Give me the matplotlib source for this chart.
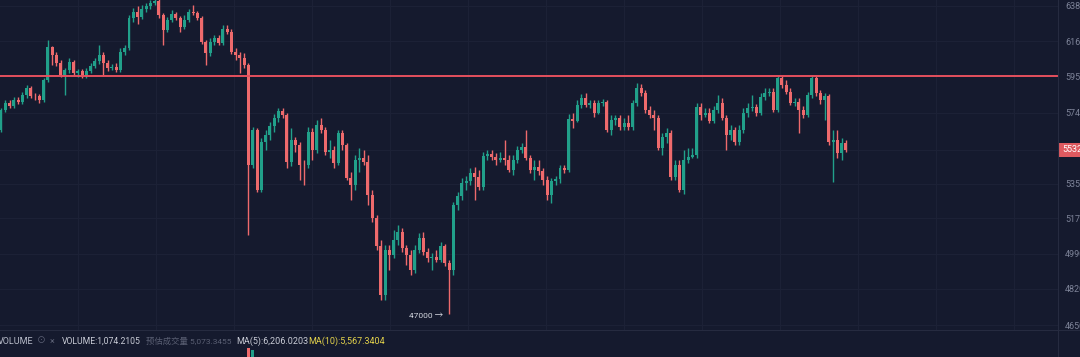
import matplotlib.pyplot as plt
import numpy as np
from matplotlib.lines import Line2D
from matplotlib.ticker import NullLocator

plt.rcParams['font.family'] = ['Roboto', 'Noto Sans CJK SC', 'DejaVu Sans']

# candle data (price), open of each bar = previous close
first_open = 56420
closes = [
    57550, 57950, 57780, 58130, 58010, 58410, 58820, 58360, 58330, 58130,
    59290, 61260, 60780, 60300, 59580, 59880, 60360, 59700, 59820, 59530,
    59820, 60120, 60420, 60780, 60300, 60000, 60060, 59880, 60960, 61200,
    63050, 63420, 63110, 63610, 63800, 63990, 64120, 63230, 62300, 62920,
    63300, 63050, 62490, 62920, 63420, 63360, 63050, 61560, 60900, 61560,
    61810, 61500, 62360, 62180, 60960, 60780, 60600, 60180, 54500, 56420,
    53170, 55760, 56150, 56650, 57100, 57500, 57270, 54660, 55870, 55590,
    54500, 54480, 56310, 55320, 56700, 56420, 55210, 55320, 54610, 56260,
    55590, 53800, 53430, 54770, 54880, 54660, 52900, 51710, 50300, 47910,
    50100, 49850, 50600, 51000, 50200, 49850, 49110, 50100, 50700, 50000,
    49700, 49750, 49600, 50300, 49460, 49110, 52380, 52850, 53540, 53640,
    54070, 53860, 53330, 54990, 55100, 54930, 54770, 54880, 54770, 54230,
    54770, 55320, 55480, 54880, 54230, 54390, 54180, 53700, 52900, 53640,
    53750, 54340, 54230, 57040, 56930, 57840, 58240, 57840, 57950, 57380,
    57950, 58010, 56420, 56990, 57100, 56590, 56820, 56590, 57950, 58820,
    58530, 57550, 57270, 57100, 55430, 56030, 56260, 53860, 54500, 53170,
    54770, 54930, 55040, 57730, 57270, 57380, 56930, 57550, 57950, 57100,
    56150, 56420, 55760, 56420, 57380, 57670, 57730, 57380, 58300, 58530,
    58590, 57550, 59410, 59000, 58590, 57950, 58010, 57550, 57270, 58410,
    59410, 58530, 58130, 58360, 55760, 55870, 55150, 55700, 55320,
]
highs = [
    57670, 58130, 58130, 58300, 58300, 58590, 59000, 58940, 58530, 58470,
    59410, 61690, 61320, 60960, 60480, 60000, 60600, 60480, 59940, 59940,
    60000, 60300, 60600, 61380, 60960, 60480, 60240, 60300, 61200, 61380,
    63240, 63670, 63800, 63860, 63990, 64180, 64370, 64500, 63360, 63110,
    63550, 63420, 63170, 63240, 63610, 63860, 63490, 63170, 61690, 61810,
    61990, 61990, 62610, 62610, 62360, 61200, 60960, 60900, 60300, 56590,
    56530, 55980, 56420, 56870, 57330, 57670, 57670, 57380, 56530, 56030,
    55760, 54770, 56590, 56530, 56990, 57100, 56590, 55870, 55540, 56420,
    56420, 55700, 54120, 55040, 55430, 55320, 55040, 53170, 51870, 50600,
    50350, 50350, 51100, 51350, 51200, 50350, 50100, 50350, 50950, 51000,
    50200, 49950, 50100, 50500, 50400, 49600, 52540, 53060, 53800, 53910,
    54340, 54390, 54230, 55210, 55320, 55320, 55150, 55210, 55870, 55040,
    55040, 55540, 55700, 56420, 55040, 54770, 54770, 54340, 53910, 53800,
    53910, 54500, 54500, 57330, 57380, 58130, 58470, 58530, 58130, 58130,
    58130, 58180, 58130, 57270, 57270, 57270, 57100, 57270, 58130, 59120,
    59060, 58700, 57780, 57550, 57270, 56260, 56530, 56420, 54770, 54770,
    55320, 55430, 55430, 57950, 57950, 57670, 57670, 57780, 58410, 58240,
    57270, 56700, 56590, 56700, 57670, 57950, 58410, 57900, 58530, 58820,
    58820, 58820, 59530, 59530, 59290, 58820, 58240, 58240, 57780, 58590,
    59580, 59580, 58700, 58530, 58470, 56420, 56420, 55980, 55870,
]
lows = [
    56310, 57440, 57670, 57670, 57900, 57900, 58240, 58240, 58130, 57950,
    58010, 59170, 60180, 60120, 59470, 58410, 59700, 59580, 59470, 59410,
    59410, 59700, 60000, 60240, 59530, 59820, 59880, 59760, 59760, 60780,
    61080, 62800, 62670, 62980, 63420, 63610, 63860, 63050, 61380, 62180,
    62800, 62920, 62180, 62360, 62800, 63230, 62920, 61440, 60180, 60720,
    61380, 61380, 61380, 62050, 60840, 60480, 59700, 60000, 50850, 54340,
    53060, 53060, 55320, 55870, 56310, 56870, 57100, 54340, 54450, 55210,
    53700, 53430, 54340, 54770, 55150, 56260, 55040, 54880, 54340, 54500,
    55320, 53700, 52640, 53170, 54120, 54500, 52380, 51510, 50100, 47680,
    47680, 49110, 49700, 50350, 50000, 49360, 48870, 48970, 49950, 49850,
    49500, 49110, 49500, 49500, 49310, 47000, 48870, 52120, 52640, 53170,
    53430, 52640, 53170, 53170, 54770, 54770, 54500, 54660, 54500, 54120,
    53960, 54610, 55150, 54770, 54070, 53700, 53960, 53430, 52640, 52490,
    53430, 53540, 54070, 54120, 56530, 56870, 57670, 57730, 57670, 57150,
    57330, 57780, 56310, 56150, 56700, 56420, 56420, 56420, 56420, 57780,
    58360, 57380, 57100, 56420, 55320, 55040, 55700, 53700, 53700, 53060,
    52960, 54610, 54880, 54880, 56990, 57150, 56820, 56820, 57380, 56990,
    55320, 55870, 55590, 55590, 56260, 57150, 57500, 57210, 57270, 58130,
    58360, 57440, 57440, 58820, 58470, 57840, 57780, 56260, 57100, 57150,
    58240, 58360, 57900, 56990, 55590, 53590, 54880, 54770, 55210,
]

resistance = 59500
low_mark = 47000
low_bar = 105
price_ticks = [63800, 61600, 59500, 57400, 55300, 53500, 51700, 49900, 48200, 46500]
vol_bars = [58, 59]
vol_values = [36500, 35800]
legend_labels = ['VOLUME', '⊙', '×', 'VOLUME:1,074.2105', '预估成交量 5,073.3455',
                 'MA(5):6,206.0203', 'MA(10):5,567.3404']

bg = '#151a2e'
up = '#21a08a'
down = '#ee6a6c'
W, H = 1080, 357

opens = [first_open] + closes[:-1]
o = np.array(opens)
c = np.array(closes)
idx = np.arange(len(closes))
cols = np.where(c >= o, up, down)

fig = plt.figure(figsize=(W / 100, H / 100), dpi=100, facecolor=bg)
ax = fig.add_axes([0, 27 / H, 1058 / W, 330 / H])
ax.set_facecolor(bg)
ax.set_yscale('log')
ax.set_ylim(46280, 64180)
ax.set_xlim(-0.23, 247.7)

ax.vlines(idx, lows, highs, colors=cols, linewidth=1, zorder=3)
ax.bar(idx, np.maximum(np.abs(c - o), 25), bottom=np.minimum(o, c),
       width=0.7, color=cols, linewidth=0, zorder=3)

ax.axhline(resistance, color='#e5505e', linewidth=1.4, zorder=4)

ax.annotate(f'{low_mark} →', xy=(low_bar, low_mark), xytext=(-4, -1),
            textcoords='offset points', ha='right', va='center',
            fontsize=6, color='#d4d7e0')

# right price axis; the tick under the live price tag stays unlabelled
ax.yaxis.tick_right()
ax.set_yticks(price_ticks)
ax.set_yticklabels(['' if abs(t - closes[-1]) < 500 else str(t) for t in price_ticks])
ax.yaxis.set_minor_locator(NullLocator())
ax.tick_params(axis='y', length=0, pad=5, labelsize=6.5, labelcolor='#7d8398')
ax.set_xticks([(78 * k - 1) / 4.266 for k in range(1, 14)])
ax.tick_params(axis='x', length=0, labelbottom=False)
ax.grid(True, color='#1d2237', linewidth=0.7, zorder=0)
for s in ax.spines.values():
    s.set_visible(False)

# current price tag
ax.annotate(str(closes[-1]), xy=(1.0, closes[-1]), xycoords=('axes fraction', 'data'),
            xytext=(3, 0), textcoords='offset points', ha='left', va='center',
            fontsize=6.5, color='white', zorder=10, annotation_clip=False,
            bbox=dict(boxstyle='square,pad=0.3', fc='#df5a60', ec='none'))

# volume pane
vax = fig.add_axes([0, 0, 1058 / W, 26 / H])
vax.set_facecolor(bg)
vax.bar(vol_bars, vol_values, width=0.7, color=[down, up], linewidth=0)
vax.set_xlim(-0.23, 247.7)
vax.set_ylim(33000, 43000)
vax.axis('off')

fig.add_artist(Line2D([1058 / W, 1058 / W], [0, 1], color='#262b40', linewidth=0.8))
fig.add_artist(Line2D([0, 1], [27 / H, 27 / H], color='#262b40', linewidth=0.8))

legend_x = [-2, 37, 50, 62, 146, 236, 308]
legend_size = [6.5, 6.5, 6.5, 6.2, 6.0, 6.5, 6.5]
legend_colors = ['#b9bdca', '#5d6276', '#5d6276', '#c9ccd6', '#5a5f73', '#c9ccd6', '#e3d24b']
for lbl, lx, fs, lc in zip(legend_labels, legend_x, legend_size, legend_colors):
    fig.text(lx / W, 1 - 341 / H, lbl, fontsize=fs, color=lc, va='center', ha='left')

fig.savefig('out.png', dpi=100, facecolor=bg)
